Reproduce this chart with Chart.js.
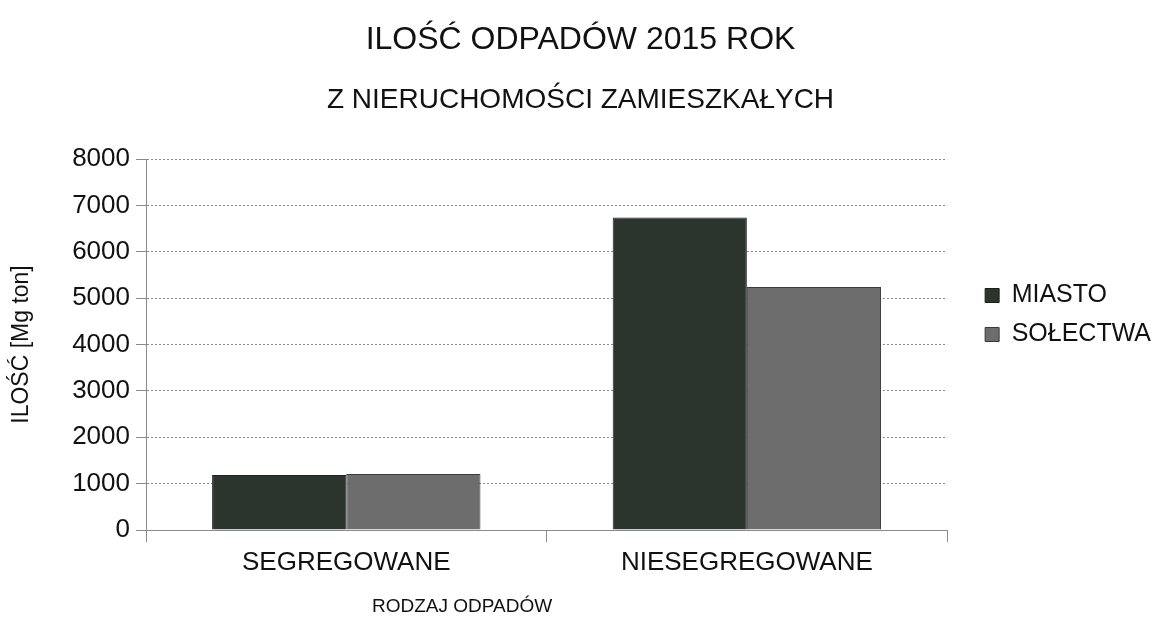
<!DOCTYPE html>
<html><head><meta charset="utf-8">
<script src="https://cdn.jsdelivr.net/npm/chart.js@4.4.1/dist/chart.umd.min.js"></script>
<style>html,body{margin:0;padding:0;background:#fff}#wrap{width:1153px;height:617px}</style>
</head><body><div id="wrap"><canvas id="c" width="1153" height="617"></canvas></div>
<script>
const categories = ["SEGREGOWANE", "NIESEGREGOWANE"];
const miasto = [1185, 6740];
const solectwa = [1205, 5240];
const yTicks = [0,1000,2000,3000,4000,5000,6000,7000,8000];
const FONT = "'Liberation Sans', Arial, sans-serif";
const gridColor = "#8a8a8a";
new Chart(document.getElementById('c'), {
  type: 'bar',
  data: {
    labels: categories,
    datasets: [
      {label: "MIASTO", data: miasto, backgroundColor: "#2c342e", borderColor: "#1c211d", borderWidth: 1, categoryPercentage: 0.67, barPercentage: 1},
      {label: "SOŁECTWA", data: solectwa, backgroundColor: "#6c6d6c", borderColor: "#3a3a3a", borderWidth: 1, categoryPercentage: 0.67, barPercentage: 1}
    ]
  },
  options: {
    responsive: false, animation: false,
    layout: {padding: {left: 0, right: -8, top: 12, bottom: -1}},
    plugins: {
      title: {display: true, text: "ILOŚĆ ODPADÓW 2015 ROK", color: "#111", font: {family: FONT, size: 32, weight: 'normal'}, padding: {top: 9, bottom: 24}},
      subtitle: {display: true, text: "Z NIERUCHOMOŚCI ZAMIESZKAŁYCH", color: "#111", font: {family: FONT, size: 28, weight: 'normal'}, padding: {top: 0, bottom: 42}},
      legend: {position: 'right', labels: {color: "#111", font: {family: FONT, size: 25}, boxWidth: 14, boxHeight: 14, padding: 14}},
      tooltip: {enabled: false}
    },
    scales: {
      x: {
        offset: true,
        grid: {display: true, drawOnChartArea: false, drawTicks: true, tickLength: 12, color: gridColor, offset: true},
        border: {display: true, color: gridColor, dash: [2,2]},
        ticks: {color: "#111", font: {family: FONT, size: 26}, padding: 5},
        title: {display: true, text: "RODZAJ ODPADÓW" + " ".repeat(32), color: "#111", font: {family: FONT, size: 19}, padding: {top: 12, bottom: 0}}
      },
      y: {
        min: 0, max: 8000,
        afterBuildTicks: (s) => { s.ticks = yTicks.map(v => ({value: v})); },
        afterFit: (s) => { s.width = 146; },
        grid: {color: gridColor, tickLength: 10},
        border: {display: true, color: gridColor, dash: [2,2]},
        ticks: {color: "#111", font: {family: FONT, size: 26}, padding: 6, callback: (v) => String(v)},
        title: {display: true, text: "ILOŚĆ [Mg ton]", color: "#111", font: {family: FONT, size: 23}, padding: {top: 8, bottom: 4}}
      },
      gap: {
        position: 'right', display: true,
        afterFit: (s) => { s.width = 24; },
        grid: {display: false}, border: {display: false}, ticks: {display: false}
      }
    }
  }
});
</script></body></html>
